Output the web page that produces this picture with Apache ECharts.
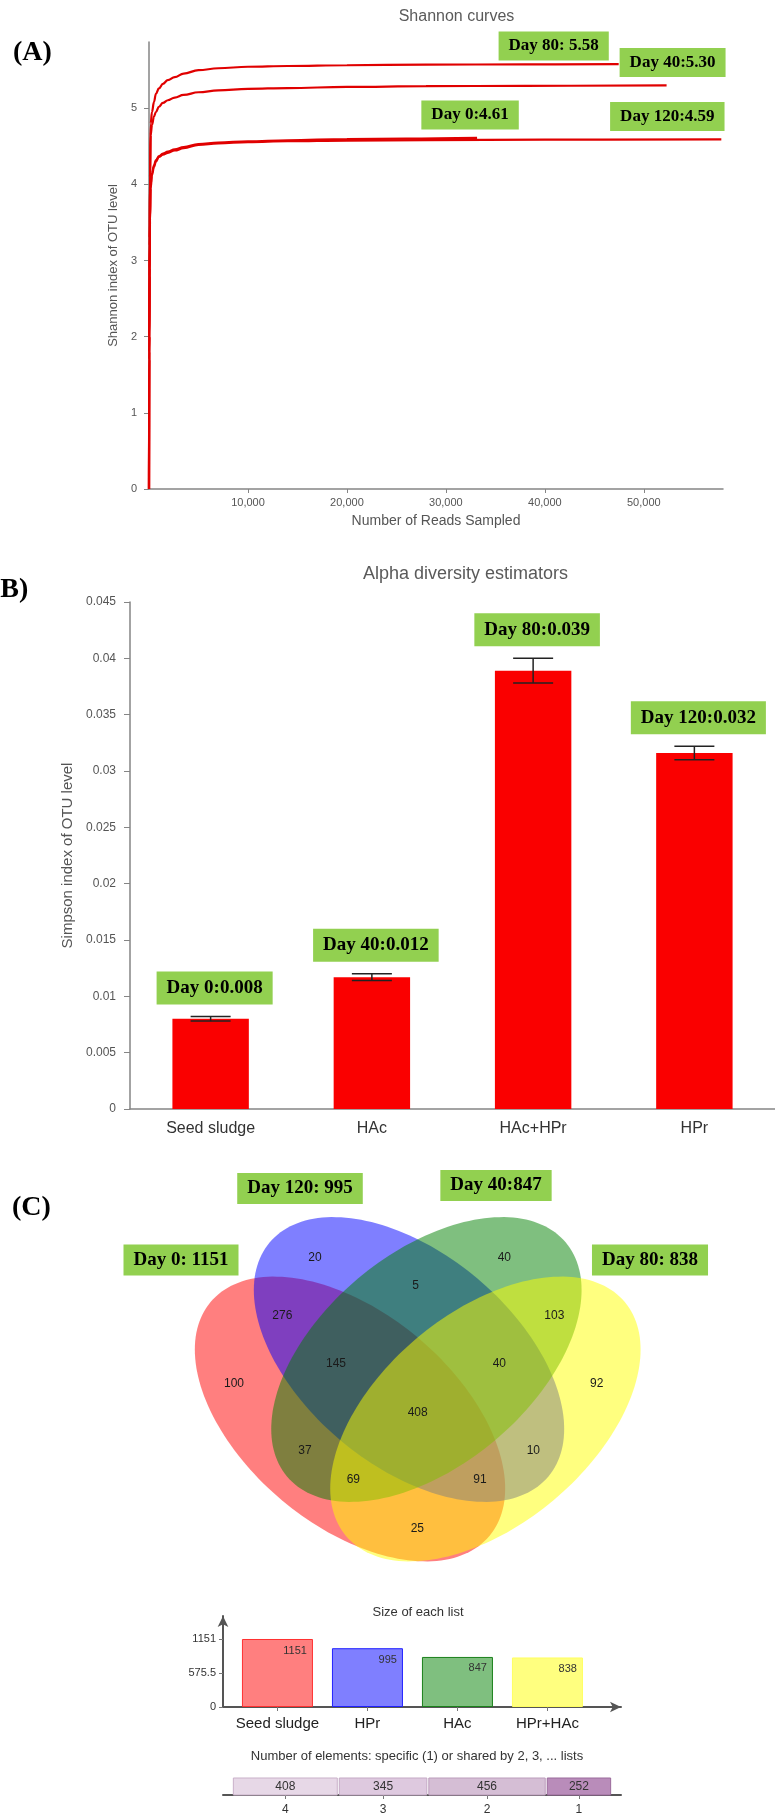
<!DOCTYPE html>
<html>
<head>
<meta charset="utf-8">
<script src="https://cdn.jsdelivr.net/npm/echarts@6/dist/echarts.min.js"></script>
<style>
  html, body { margin: 0; padding: 0; background: #fff; }
  #chart { width: 775px; height: 1816px; }
</style>
</head>
<body>
<div id="chart"></div>
<script>
// ---------- (A) Shannon rarefaction curves ----------
const day0Reads     = [0, 30, 60, 100, 170, 300, 500, 700, 1000, 1400, 1900, 2600, 3500, 5000, 7000, 10000, 14000, 20000, 26000, 33150];
const day0Shannon   = [0, 1.8, 2.9, 3.55, 4.0, 4.15, 4.25, 4.32, 4.37, 4.405, 4.43, 4.46, 4.49, 4.53, 4.55, 4.565, 4.58, 4.595, 4.60, 4.61];
const day40Reads    = [0, 30, 60, 100, 170, 300, 500, 700, 1000, 1400, 1900, 2600, 3500, 5000, 7000, 10000, 14000, 20000, 28000, 38000, 52300];
const day40Shannon  = [0, 2.0, 3.2, 4.0, 4.65, 4.78, 4.89, 4.95, 5.02, 5.07, 5.105, 5.14, 5.175, 5.21, 5.235, 5.255, 5.265, 5.28, 5.29, 5.295, 5.30];
const day80Reads    = [0, 30, 60, 100, 170, 300, 500, 700, 1000, 1400, 1900, 2600, 3500, 5000, 7000, 10000, 14000, 20000, 28000, 38000, 47460];
const day80Shannon  = [0, 2.0, 3.3, 4.1, 4.8, 4.95, 5.08, 5.19, 5.26, 5.32, 5.37, 5.41, 5.455, 5.50, 5.525, 5.545, 5.555, 5.565, 5.572, 5.577, 5.58];
const day120Reads   = [0, 30, 60, 100, 170, 300, 500, 700, 1000, 1400, 1900, 2600, 3500, 5000, 7000, 10000, 14000, 20000, 28000, 40000, 57830];
const day120Shannon = [0, 1.7, 2.8, 3.5, 3.95, 4.12, 4.23, 4.30, 4.36, 4.39, 4.415, 4.445, 4.475, 4.52, 4.54, 4.555, 4.567, 4.576, 4.582, 4.587, 4.59];
const readTicks     = [10000, 20000, 30000, 40000, 50000];
const shannonTicks  = [0, 1, 2, 3, 4, 5];

// ---------- (B) Simpson index per reactor stage ----------
const simpsonGroups = ['Seed sludge', 'HAc', 'HAc+HPr', 'HPr'];
const simpsonDays   = ['Day 0', 'Day 40', 'Day 80', 'Day 120'];
const simpsonMean   = [0.0080, 0.0117, 0.0389, 0.0316];
const simpsonErr    = [0.0002, 0.0003, 0.0011, 0.0006];

// ---------- (C) shared OTUs between the four samples ----------
// sets: A = Seed sludge (Day 0), B = HPr (Day 120), C = HAc (Day 40), D = HPr+HAc (Day 80)
const vennSets      = ['Seed sludge', 'HPr', 'HAc', 'HPr+HAc'];
const vennPrefix    = ['Day 0: ', 'Day 120: ', 'Day 40:', 'Day 80: '];
const regionKeys    = ['A', 'B', 'C', 'D', 'AB', 'AC', 'AD', 'BC', 'BD', 'CD', 'ABC', 'ABD', 'ACD', 'BCD', 'ABCD'];
const regionCounts  = [100, 20, 40, 92, 276, 37, 25, 5, 10, 103, 145, 91, 69, 40, 408];
const sharedLevels  = [4, 3, 2, 1];

// list sizes and "shared by n lists" totals follow from the region counts
const setTotals = vennSets.map((_, s) =>
  regionKeys.reduce((sum, k, i) => sum + (k.indexOf('ABCD'[s]) >= 0 ? regionCounts[i] : 0), 0));
const sharedCounts = sharedLevels.map(n =>
  regionKeys.reduce((sum, k, i) => sum + (k.length === n ? regionCounts[i] : 0), 0));

// ---------- styling / layout ----------
const SANS = '"Liberation Sans", Arial, Helvetica, sans-serif';
const SERIF = '"Liberation Serif", "Times New Roman", Times, serif';
const GREEN = '#92d050';
const AXIS_GREY = '#858585';
const SET_RGB = ['255,0,0', '0,0,255', '0,128,0', '255,255,0'];
const SET_BORDER = ['#ff3030', '#2020ff', '#1a801a', '#ffff60'];

// ellipse layout of the four-set diagram (units of 100 px in the venn grid)
const VENN_A = 1.82, VENN_B = 1.06, VENN_TILT = 40 * Math.PI / 180;
const vennCenters = [[2.00, 2.59], [2.59, 1.995], [2.764, 1.995], [3.354, 2.59]];
const vennTilts   = [VENN_TILT, VENN_TILT, -VENN_TILT, -VENN_TILT];
const regionLabelAt = {
  A: [0.84, 2.233], B: [1.65, 0.973], C: [3.543, 0.973], D: [4.467, 2.233],
  AB: [1.323, 1.553], BC: [2.657, 1.26], CD: [4.043, 1.553],
  ABC: [1.86, 2.04], BCD: [3.493, 2.04], ABCD: [2.677, 2.523],
  AC: [1.55, 2.907], BD: [3.833, 2.907], ACD: [2.033, 3.20], ABD: [3.30, 3.20], AD: [2.673, 3.683]
};
const setLabelAt = [[0.31, 1.00], [1.50, 0.285], [3.46, 0.255], [5.00, 1.00]];

// size-of-list bars sit at slot index + offset on a value axis
const SLOT_OFFSET = 0.605;

const zip = (xs, ys) => xs.map((x, i) => [x, ys[i]]);

function endBox(prefix, reads, vals, offset) {
  const last = vals.length - 1;
  return {
    symbol: 'rect', symbolSize: 0, silent: true,
    itemStyle: { color: 'transparent' },
    data: [{ coord: [reads[last], vals[last]] }],
    label: {
      show: true, position: 'inside', offset: offset,
      formatter: prefix + vals[last].toFixed(2),
      color: '#000', fontFamily: SERIF, fontWeight: 'bold', fontSize: 17, lineHeight: 17,
      backgroundColor: GREEN, padding: [6, 10]
    }
  };
}

function curve(name, reads, vals, prefix, offset) {
  return {
    type: 'line', name: name, xAxisIndex: 0, yAxisIndex: 0,
    data: zip(reads, vals), showSymbol: false, symbol: 'none',
    smooth: 0.4, smoothMonotone: 'x',
    lineStyle: { color: '#e00000', width: 2.2 },
    markPoint: endBox(prefix, reads, vals, offset),
    z: 3
  };
}

// cumulative segments for the shared-elements strip
let acc = 0;
const sharedSegments = sharedCounts.map((c, i) => {
  const seg = [acc, acc + c, c, sharedLevels[i]];
  acc += c;
  return seg;
});
const sharedCenters = sharedSegments.map(s => (s[0] + s[1]) / 2);
const sharedFill = { 4: '#e7d8e7', 3: '#dec9df', 2: '#d5bed5', 1: '#b98cba' };
const sharedStroke = { 4: '#c9b0c9', 3: '#c4a9c5', 2: '#bb9cbb', 1: '#9a6a9b' };

const slotValues = vennSets.map((_, i) => i + SLOT_OFFSET);
const sizeTicks = [0, setTotals[0] / 2, setTotals[0]];

const option = {
  animation: false,
  backgroundColor: '#ffffff',
  textStyle: { fontFamily: SANS },
  grid: [
    { left: 149, top: 42, width: 574, height: 447 },
    { left: 130, top: 602, width: 651, height: 507 },
    { left: 150, top: 1160, width: 540, height: 420 },
    { left: 223, top: 1616, width: 398, height: 91 },
    { left: 223, top: 1778, width: 398, height: 18 }
  ],
  xAxis: [
    {
      gridIndex: 0, type: 'value', min: 0, max: 58000, interval: 10000,
      name: 'Number of Reads Sampled', nameLocation: 'middle', nameGap: 25,
      nameTextStyle: { fontSize: 14, color: '#555' },
      axisLine: { lineStyle: { color: AXIS_GREY, width: 1.5 } },
      axisTick: { customValues: readTicks, length: 4, lineStyle: { color: AXIS_GREY } },
      axisLabel: { customValues: readTicks, fontSize: 11, color: '#555', margin: 8,
        formatter: v => v.toLocaleString('en-US') },
      splitLine: { show: false }
    },
    {
      gridIndex: 1, type: 'category', data: simpsonGroups,
      axisLine: { lineStyle: { color: AXIS_GREY, width: 1.5 } },
      axisTick: { length: 7, lineStyle: { color: AXIS_GREY } },
      axisLabel: { fontSize: 16, color: '#333', margin: 12 }
    },
    { gridIndex: 2, type: 'value', min: 0, max: 5.4, show: false },
    {
      gridIndex: 3, type: 'value', min: 0, max: 398 / 90,
      axisLine: { symbol: ['none', 'arrow'], symbolSize: [8, 11], lineStyle: { color: '#555', width: 2 } },
      axisTick: { customValues: slotValues, length: 4, lineStyle: { color: '#777' } },
      axisLabel: { customValues: slotValues, fontSize: 15, color: '#222', margin: 9,
        formatter: v => vennSets[Math.round(v - SLOT_OFFSET)] },
      splitLine: { show: false }
    },
    {
      gridIndex: 4, type: 'value', min: -36, max: 1497, offset: 3,
      axisLine: { lineStyle: { color: '#555', width: 2 } },
      axisTick: { customValues: sharedCenters, length: 4, lineStyle: { color: '#777' } },
      axisLabel: { customValues: sharedCenters, fontSize: 12, color: '#333', margin: 6,
        formatter: v => {
          let best = 0;
          sharedCenters.forEach((c, i) => { if (Math.abs(c - v) < Math.abs(sharedCenters[best] - v)) best = i; });
          return String(sharedLevels[best]);
        } },
      splitLine: { show: false }
    }
  ],
  yAxis: [
    {
      gridIndex: 0, type: 'value', min: 0, max: 5.87, interval: 1,
      name: 'Shannon index of OTU level', nameLocation: 'middle', nameGap: 23, nameRotate: 90,
      nameTextStyle: { fontSize: 13, color: '#555' },
      axisLine: { show: true, lineStyle: { color: AXIS_GREY, width: 1.5 } },
      axisTick: { show: true, customValues: shannonTicks, length: 5, lineStyle: { color: AXIS_GREY } },
      axisLabel: { customValues: shannonTicks, fontSize: 11, color: '#555', margin: 12 },
      splitLine: { show: false }
    },
    {
      gridIndex: 1, type: 'value', min: 0, max: 0.045, interval: 0.005,
      name: 'Simpson index of OTU level', nameLocation: 'middle', nameGap: 48, nameRotate: 90,
      nameTextStyle: { fontSize: 15, color: '#555' },
      axisLine: { show: true, lineStyle: { color: AXIS_GREY, width: 1.5 } },
      axisTick: { show: true, length: 6, lineStyle: { color: AXIS_GREY } },
      axisLabel: { fontSize: 12, color: '#555', margin: 14 },
      splitLine: { show: false }
    },
    { gridIndex: 2, type: 'value', min: 0, max: 4.2, inverse: true, show: false },
    {
      gridIndex: 3, type: 'value', min: 0, max: 1540,
      axisLine: { show: true, symbol: ['none', 'arrow'], symbolSize: [8, 11], lineStyle: { color: '#555', width: 2 } },
      axisTick: { show: true, customValues: sizeTicks, length: 4, lineStyle: { color: '#777' } },
      axisLabel: { customValues: sizeTicks, fontSize: 11, color: '#333', margin: 7,
        formatter: v => String(v) },
      splitLine: { show: false }
    },
    { gridIndex: 4, type: 'value', min: 0, max: 1, show: false }
  ],
  graphic: [
    { type: 'text', x: 13, y: 53, style: { text: '(A)', font: 'bold 28px ' + SERIF, fill: '#000', align: 'left', verticalAlign: 'middle', textAlign: 'left', textVerticalAlign: 'middle' } },
    { type: 'text', x: 456.5, y: 17, style: { text: 'Shannon curves', font: '16px ' + SANS, fill: '#5a5a5a', align: 'center', verticalAlign: 'middle', textAlign: 'center', textVerticalAlign: 'middle' } },
    { type: 'text', x: -9, y: 590, style: { text: '(B)', font: 'bold 28px ' + SERIF, fill: '#000', align: 'left', verticalAlign: 'middle', textAlign: 'left', textVerticalAlign: 'middle' } },
    { type: 'text', x: 465.5, y: 574, style: { text: 'Alpha diversity estimators', font: '18px ' + SANS, fill: '#5a5a5a', align: 'center', verticalAlign: 'middle', textAlign: 'center', textVerticalAlign: 'middle' } },
    { type: 'text', x: 12, y: 1208, style: { text: '(C)', font: 'bold 28px ' + SERIF, fill: '#000', align: 'left', verticalAlign: 'middle', textAlign: 'left', textVerticalAlign: 'middle' } },
    { type: 'text', x: 418, y: 1612.5, style: { text: 'Size of each list', font: '13px ' + SANS, fill: '#333', align: 'center', verticalAlign: 'middle', textAlign: 'center', textVerticalAlign: 'middle' } },
    { type: 'text', x: 417, y: 1756, style: { text: 'Number of elements: specific (1) or shared by 2, 3, ... lists', font: '13px ' + SANS, fill: '#333', align: 'center', verticalAlign: 'middle', textAlign: 'center', textVerticalAlign: 'middle' } }
  ],
  series: [
    // (A)
    curve('Day 120', day120Reads, day120Shannon, 'Day 120:', [-54, -23]),
    curve('Day 0', day0Reads, day0Shannon, 'Day 0:', [-7, -23]),
    curve('Day 40', day40Reads, day40Shannon, 'Day 40:', [6, -23]),
    curve('Day 80', day80Reads, day80Shannon, 'Day 80: ', [-65, -18]),

    // (B) bars
    {
      type: 'bar', xAxisIndex: 1, yAxisIndex: 1, data: simpsonMean,
      barWidth: '47.4%', itemStyle: { color: '#fa0000' }
    },
    // (B) error bars with value boxes
    {
      type: 'custom', xAxisIndex: 1, yAxisIndex: 1, z: 5,
      data: simpsonMean.map((m, i) => [i, m - simpsonErr[i], m + simpsonErr[i], m]),
      renderItem: (params, api) => {
        const i = params.dataIndex;
        const hi = api.coord([api.value(0), api.value(2)]);
        const lo = api.coord([api.value(0), api.value(1)]);
        const half = 20;
        const line = { stroke: '#222', lineWidth: 1.5 };
        return {
          type: 'group',
          children: [
            { type: 'line', shape: { x1: hi[0], y1: hi[1], x2: lo[0], y2: lo[1] }, style: line },
            { type: 'line', shape: { x1: hi[0] - half, y1: hi[1], x2: hi[0] + half, y2: hi[1] }, style: line },
            { type: 'line', shape: { x1: lo[0] - half, y1: lo[1], x2: lo[0] + half, y2: lo[1] }, style: line },
            {
              type: 'text', x: hi[0] + 4, y: hi[1] - 12,
              style: {
                text: simpsonDays[i] + ':' + api.value(3).toFixed(3),
                font: 'bold 19px ' + SERIF, fill: '#000',
                align: 'center', verticalAlign: 'bottom',
                backgroundColor: GREEN, padding: [7, 10]
              }
            }
          ]
        };
      }
    },

    // (C) ellipses, drawn in set order with half opacity
    {
      type: 'custom', xAxisIndex: 2, yAxisIndex: 2, clip: false, silent: true,
      data: vennCenters.map((c, i) => [c[0], c[1], i]),
      renderItem: (params, api) => {
        const s = api.value(2);
        const cx = api.value(0), cy = api.value(1);
        const t = vennTilts[s];
        const pts = [];
        for (let k = 0; k < 180; k++) {
          const a = k / 180 * Math.PI * 2;
          const ex = VENN_A * Math.cos(a), ey = VENN_B * Math.sin(a);
          pts.push(api.coord([cx + ex * Math.cos(t) - ey * Math.sin(t), cy + ex * Math.sin(t) + ey * Math.cos(t)]));
        }
        return { type: 'polygon', shape: { points: pts }, style: { fill: 'rgba(' + SET_RGB[s] + ',0.5)' } };
      }
    },
    // (C) region counts
    {
      type: 'custom', xAxisIndex: 2, yAxisIndex: 2, clip: false, silent: true, z: 4,
      data: regionKeys.map((k, i) => [regionLabelAt[k][0], regionLabelAt[k][1], regionCounts[i]]),
      renderItem: (params, api) => {
        const p = api.coord([api.value(0), api.value(1)]);
        return { type: 'text', x: p[0], y: p[1], style: { text: String(api.value(2)), font: '12px ' + SANS, fill: '#1a1a1a', align: 'center', verticalAlign: 'middle' } };
      }
    },
    // (C) set size boxes
    {
      type: 'custom', xAxisIndex: 2, yAxisIndex: 2, clip: false, silent: true, z: 5,
      data: setLabelAt.map((p, i) => [p[0], p[1], setTotals[i], i]),
      renderItem: (params, api) => {
        const p = api.coord([api.value(0), api.value(1)]);
        const i = api.value(3);
        return { type: 'text', x: p[0], y: p[1], style: {
          text: vennPrefix[i] + api.value(2), font: 'bold 19px ' + SERIF, fill: '#000',
          align: 'center', verticalAlign: 'middle', backgroundColor: GREEN, padding: [6, 10] } };
      }
    },

    // size of each list
    {
      type: 'bar', xAxisIndex: 3, yAxisIndex: 3, barWidth: 71,
      data: setTotals.map((v, i) => ({
        value: [i + SLOT_OFFSET, v],
        itemStyle: { color: 'rgba(' + SET_RGB[i] + ',0.5)', borderColor: SET_BORDER[i], borderWidth: 1 }
      })),
      label: { show: true, position: 'insideTopRight', distance: 6, fontSize: 11, color: '#333',
        formatter: p => String(p.value[1]) }
    },

    // elements shared by n lists
    {
      type: 'custom', xAxisIndex: 4, yAxisIndex: 4, clip: false, silent: true,
      data: sharedSegments,
      renderItem: (params, api) => {
        const p0 = api.coord([api.value(0), 0]);
        const p1 = api.coord([api.value(1), 1]);
        const lvl = api.value(3);
        return {
          type: 'group',
          children: [
            { type: 'rect', shape: { x: p0[0] + 1, y: p1[1], width: p1[0] - p0[0] - 2, height: p0[1] - p1[1] },
              style: { fill: sharedFill[lvl], stroke: sharedStroke[lvl], lineWidth: 1 } },
            { type: 'text', x: (p0[0] + p1[0]) / 2, y: (p0[1] + p1[1]) / 2,
              style: { text: String(api.value(2)), font: '12px ' + SANS, fill: '#333', align: 'center', verticalAlign: 'middle' } }
          ]
        };
      }
    }
  ]
};

const chart = echarts.init(document.getElementById('chart'), null, { renderer: 'canvas', width: 775, height: 1816 });
chart.setOption(option);
</script>
</body>
</html>
